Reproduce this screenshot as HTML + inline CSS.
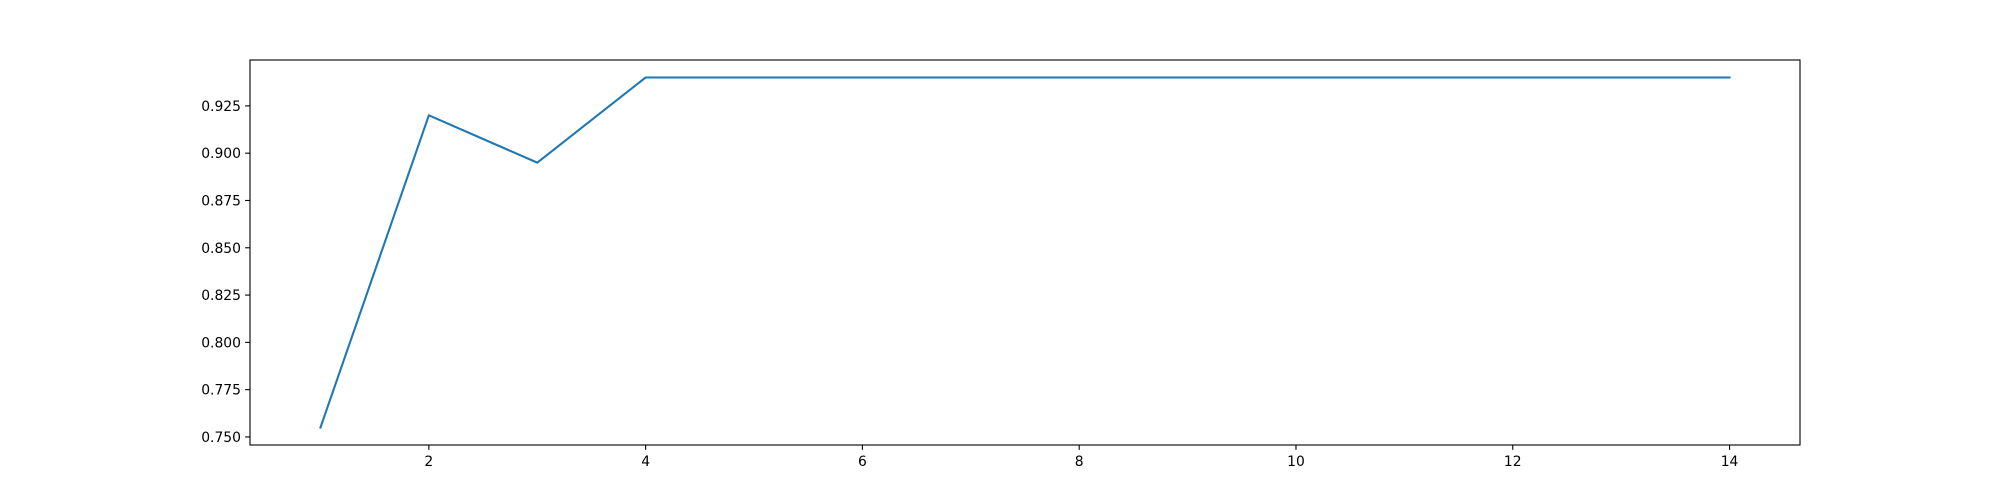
<!DOCTYPE html>
<html><head><meta charset="utf-8"><style>
html,body{margin:0;padding:0;background:#fff;}
svg{display:block;font-family:"DejaVu Sans","Liberation Sans",sans-serif;}
</style></head><body>
<svg id="chart" width="2000" height="500" viewBox="0 0 2000 500" xmlns="http://www.w3.org/2000/svg"></svg>
<script>
const xValues = [1,2,3,4,5,6,7,8,9,10,11,12,13,14];
const yValues = [0.755,0.92,0.895,0.94,0.94,0.94,0.94,0.94,0.94,0.94,0.94,0.94,0.94,0.94];
const xTicks = [2,4,6,8,10,12,14];
const yTicks = [0.750,0.775,0.800,0.825,0.850,0.875,0.900,0.925];

const L=250,R=1800,T=60,B=445;
const ymin=Math.min(...yValues),ymax=Math.max(...yValues),yp=(ymax-ymin)*0.05;
const xmin=Math.min(...xValues),xmax=Math.max(...xValues),xp=(xmax-xmin)*0.05;
const x0=xmin-xp,x1=xmax+xp,y0=ymin-yp,y1=ymax+yp;
const sx=v=>L+(v-x0)/(x1-x0)*(R-L);
const sy=v=>B-(v-y0)/(y1-y0)*(B-T);
const svg=document.getElementById('chart');
const NS='http://www.w3.org/2000/svg';
function mk(tag,attrs,parent){const e=document.createElementNS(NS,tag);for(const k in attrs)e.setAttribute(k,attrs[k]);(parent||svg).appendChild(e);return e;}

const pts=xValues.map((x,i)=>sx(x).toFixed(2)+','+sy(yValues[i]).toFixed(2)).join(' ');
const line=mk('polyline',{points:pts,fill:'none',stroke:'#1f77b4','stroke-width':2.08,'stroke-linejoin':'round','stroke-linecap':'square'});



xTicks.forEach(t=>{
  const x=sx(t);
  const tk=mk('line',{x1:x,x2:x,y1:B,y2:B+4.86,stroke:'#000','stroke-width':1.1});
  
  
  const tx=mk('text',{x:x,y:B+21,'font-size':13.9,'text-anchor':'middle',fill:'#000'});
  tx.textContent=t;
  
  
});
yTicks.forEach(t=>{
  const y=sy(t);
  const tk=mk('line',{x1:L-4.86,x2:L,y1:y,y2:y,stroke:'#000','stroke-width':1.1});
  
  
  const tx=mk('text',{x:L-9,y:y+5,'font-size':13.9,'text-anchor':'end',fill:'#000'});
  tx.textContent=t.toFixed(3);
  
  
});
const frame=mk('rect',{x:L,y:T,width:R-L,height:B-T,fill:'none',stroke:'#000','stroke-width':1.1});


</script>
</body></html>
